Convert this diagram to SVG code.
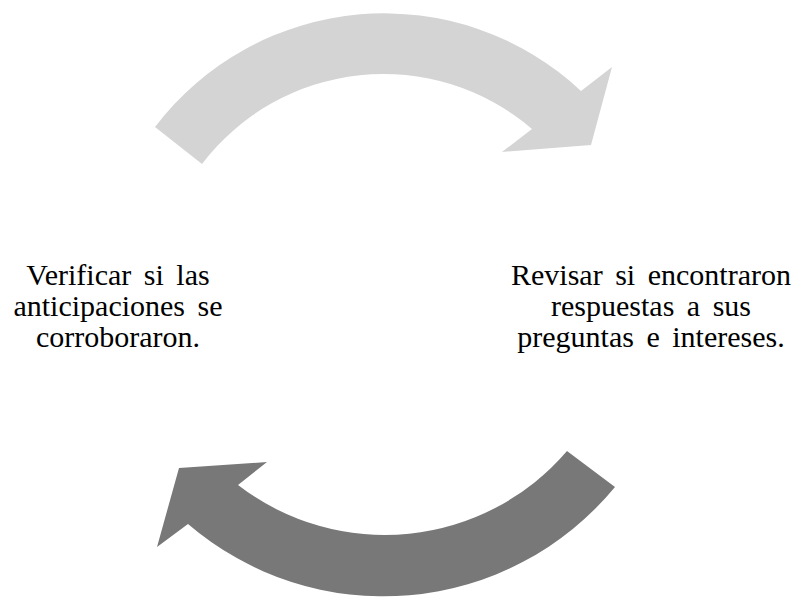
<svg xmlns="http://www.w3.org/2000/svg" width="800" height="597" viewBox="0 0 800 597">
<style>
.lbl{font-family:"Liberation Serif","Times New Roman",serif;font-size:30px;word-spacing:5px;fill:#000;text-anchor:middle}
</style>
<rect width="800" height="597" fill="#fff"/>
<g id="connectors">
<path id="arrow-top" fill="#d4d4d4" d="M155,127 A288 288 0 0 1 581,91 L612,67 L591,145 L502,152 L532,129 A228 228 0 0 0 202,164 Z"/>
<path id="arrow-bottom" fill="#787878" d="M567,451 A240 240 0 0 1 238,485 L267,462 L179,468 L157,547 L188,524 A300 300 0 0 0 615,487 Z"/>
</g>
<g id="node-left">
<text class="lbl" x="118" y="285">Verificar si las</text>
<text class="lbl" x="118" y="316">anticipaciones se</text>
<text class="lbl" x="118" y="347">corroboraron.</text>
</g>
<g id="node-right">
<text class="lbl" x="651" y="285">Revisar si encontraron</text>
<text class="lbl" x="651" y="316">respuestas a sus</text>
<text class="lbl" x="651" y="347">preguntas e intereses.</text>
</g>
</svg>
